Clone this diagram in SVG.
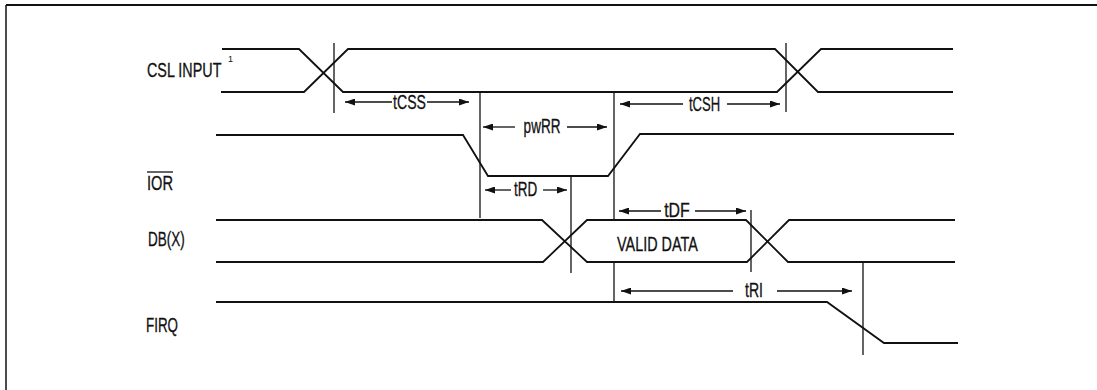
<svg xmlns="http://www.w3.org/2000/svg" width="1097" height="390" viewBox="0 0 1097 390">
<defs>
<style>
.bg{fill:#fff}
.frame{stroke:#111;fill:none}
.wave{stroke:#111;stroke-width:1.8;fill:none;stroke-linejoin:miter}
.tick{stroke:#111;stroke-width:1.3;fill:none}
.dim{stroke:#111;stroke-width:1.3;fill:none;marker-end:url(#ah)}
.lbl{font-family:"Liberation Sans",Arial,sans-serif;font-size:20px;fill:#111;stroke:#111;stroke-width:0.3}
.tl{font-family:"Liberation Sans",Arial,sans-serif;font-size:20px;fill:#111;stroke:#111;stroke-width:0.3;text-anchor:middle}
.sup{font-family:"Liberation Sans",Arial,sans-serif;font-size:9px;fill:#111}
</style>
<marker id="ah" viewBox="0 0 10 7" refX="10" refY="3.5" markerWidth="10" markerHeight="7" markerUnits="userSpaceOnUse" orient="auto">
<path d="M0,0 L10,3.5 L0,7 z" fill="#111"/>
</marker>
</defs>
<rect class="bg" x="0" y="0" width="1097" height="390"/>
<g id="frame">
<line class="frame" x1="6" y1="5" x2="1097" y2="5" stroke-width="2"/>
<line class="frame" x1="6" y1="5" x2="6" y2="390" stroke-width="1.5"/>
</g>
<g id="csl">
<text class="lbl" transform="translate(147 77) scale(0.8 1)" textLength="93" lengthAdjust="spacingAndGlyphs">CSL INPUT</text>
<text class="sup" x="228" y="62">1</text>
<path class="wave" d="M222,49 H299 L343,92 H777 L821,49 H953"/>
<path class="wave" d="M221,92 H304 L348,49 H775 L818,92 H953"/>
</g>
<g id="ior">
<text class="lbl" transform="translate(147 190) scale(0.8 1)" textLength="32.5" lengthAdjust="spacingAndGlyphs">IOR</text>
<line x1="147" y1="172" x2="173" y2="172" stroke="#111" stroke-width="1.3"/>
<path class="wave" d="M216,135 H463 L488,176 H608 L640,134 H954"/>
</g>
<g id="dbx">
<text class="lbl" transform="translate(148 246) scale(0.8 1)" textLength="46" lengthAdjust="spacingAndGlyphs">DB(X)</text>
<path class="wave" d="M216,220 H542 L587,262 H747 L789,220 H955"/>
<path class="wave" d="M216,262 H543 L587,220 H746 L788,262 H955"/>
<text class="lbl" transform="translate(617 251) scale(0.8 1)" textLength="101" lengthAdjust="spacingAndGlyphs">VALID DATA</text>
</g>
<g id="firq">
<text class="lbl" transform="translate(146 332) scale(0.8 1)" textLength="40" lengthAdjust="spacingAndGlyphs">FIRQ</text>
<path class="wave" d="M216,302 H827 L884,343 H958"/>
</g>
<g id="connectors">
<line class="tick" x1="334" y1="43" x2="334" y2="113"/>
<line class="tick" x1="480" y1="92" x2="480" y2="218"/>
<line class="tick" x1="614" y1="92" x2="614" y2="220"/>
<line class="tick" x1="614" y1="262" x2="614" y2="302"/>
<line class="tick" x1="571" y1="176" x2="571" y2="273"/>
<line class="tick" x1="751" y1="210" x2="751" y2="272"/>
<line class="tick" x1="786" y1="43" x2="786" y2="112"/>
<line class="tick" x1="863" y1="263" x2="863" y2="355"/>
<line class="dim" x1="392" y1="102" x2="345" y2="102"/>
<line class="dim" x1="427" y1="102" x2="469" y2="102"/>
<text class="tl" transform="translate(409.5 109) scale(0.8 1)" textLength="41" lengthAdjust="spacingAndGlyphs">tCSS</text>
<line class="dim" x1="683" y1="104" x2="620" y2="104"/>
<line class="dim" x1="727" y1="104" x2="780" y2="104"/>
<text class="tl" transform="translate(704.5 111) scale(0.8 1)" textLength="39" lengthAdjust="spacingAndGlyphs">tCSH</text>
<line class="dim" x1="515" y1="127" x2="483" y2="127"/>
<line class="dim" x1="567" y1="127" x2="607" y2="127"/>
<text class="tl" transform="translate(542 133) scale(0.8 1)" textLength="46" lengthAdjust="spacingAndGlyphs">pwRR</text>
<line class="dim" x1="511" y1="190" x2="485" y2="190"/>
<line class="dim" x1="543" y1="190" x2="567" y2="190"/>
<text class="tl" transform="translate(525.5 196) scale(0.8 1)" textLength="29" lengthAdjust="spacingAndGlyphs">tRD</text>
<line class="dim" x1="661" y1="211" x2="619" y2="211"/>
<line class="dim" x1="695" y1="211" x2="746" y2="211"/>
<text class="tl" transform="translate(677 217) scale(0.8 1)" textLength="32" lengthAdjust="spacingAndGlyphs">tDF</text>
<line class="dim" x1="733" y1="291" x2="621" y2="291"/>
<line class="dim" x1="777" y1="291" x2="852" y2="291"/>
<text class="tl" transform="translate(754 297) scale(0.8 1)" textLength="22.5" lengthAdjust="spacingAndGlyphs">tRI</text>
</g>
</svg>
